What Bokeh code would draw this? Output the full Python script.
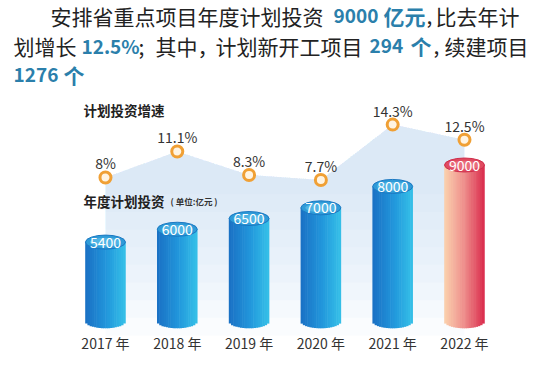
import numpy as np
from bokeh.plotting import figure
from bokeh.models import ColumnDataSource, Range1d, Label
from bokeh.core.properties import value
from bokeh.embed import file_html
from bokeh.resources import INLINE

# ---------------- data ----------------
years = ["2017", "2018", "2019", "2020", "2021", "2022"]
year_labels = ["2017 年", "2018 年", "2019 年", "2020 年", "2021 年", "2022 年"]
investment = [5400, 6000, 6500, 7000, 8000, 9000]          # 亿元
investment_labels = ["5400", "6000", "6500", "7000", "8000", "9000"]
growth = [8.0, 11.1, 8.3, 7.7, 14.3, 12.5]                  # %
growth_labels = ["8%", "11.1%", "8.3%", "7.7%", "14.3%", "12.5%"]

FONT = "Noto Sans CJK SC"
BLACK = "#222222"
HL = "#2b7fab"

# ---------------- figure ----------------
p = figure(width=550, height=375, output_backend="svg", toolbar_location=None,
           x_range=Range1d(-1.462, 6.198), y_range=Range1d(-831, 16684),
           x_axis_location=None, y_axis_location=None, min_border=0,
           outline_line_color=None, background_fill_color="white",
           border_fill_color="white")
p.grid.visible = False
p.extra_y_ranges = {"pct": Range1d(-15.57, 29.07)}

idx = np.arange(len(years), dtype=float)
inv = np.array(investment, dtype=float)
gr = np.array(growth, dtype=float)

# ---------------- growth area (soft gradient by layering) ----------------
levels = np.linspace(6.0, -10.8, 9)
for lv in levels:
    p.varea(x=idx, y1=np.minimum(lv, gr), y2=gr, y_range_name="pct",
            fill_color="#c3d7ee", fill_alpha=0.085)

# ---------------- cylinders ----------------
bar_w = 0.557
ell_h = 654.0
base = 1700.0
n_strips = 18

def lerp_color(stops, t):
    for (p0, c0), (p1, c1) in zip(stops[:-1], stops[1:]):
        if p0 <= t <= p1:
            f = (t - p0) / (p1 - p0) if p1 > p0 else 0
            c = [int(round(a + (b - a) * f)) for a, b in zip(c0, c1)]
            return "#%02x%02x%02x" % tuple(c)
    c = stops[-1][1]
    return "#%02x%02x%02x" % tuple(c)

blue_stops = [(0.0, (26, 112, 196)), (0.55, (34, 152, 220)), (1.0, (54, 192, 232))]
red_stops = [(0.0, (251, 210, 174)), (0.5, (238, 142, 140)), (1.0, (218, 44, 76))]

sx, stop_, sbot, scol, sw = [], [], [], [], []
for i in range(len(years)):
    stops = red_stops if i == len(years) - 1 else blue_stops
    for j in range(n_strips):
        u = (j + 0.5) / n_strips
        sx.append(idx[i] + (u - 0.5) * bar_w)
        stop_.append(inv[i])
        sbot.append(base - ell_h / 2 * np.sqrt(max(0.0, 1 - (2 * u - 1) ** 2)))
        scol.append(lerp_color(stops, u))
        sw.append(bar_w / n_strips * 1.25)
strip_src = ColumnDataSource(dict(x=sx, top=stop_, bottom=sbot, color=scol, w=sw))
p.vbar(x="x", top="top", bottom="bottom", width="w", source=strip_src,
       fill_color="color", line_color=None)

# top faces
top_fill = ["#2f9bd8"] * (len(years) - 1) + ["#e04a60"]
top_line = ["#1b78c2"] * (len(years) - 1) + ["#cf2e4c"]
top_inner = ["#6cc9ee"] * (len(years) - 1) + ["#f08a92"]
tsrc = ColumnDataSource(dict(x=idx, y=inv, f=top_fill, l=top_line, fi=top_inner,
                             lab=investment_labels))
p.ellipse(x="x", y="y", width=bar_w, height=ell_h, source=tsrc,
          fill_color="f", line_color="l", line_width=1)
p.ellipse(x="x", y="y", width=bar_w * 0.78, height=ell_h * 0.62, source=tsrc,
          fill_color="fi", fill_alpha=0.55, line_color=None)
p.text(x="x", y="y", text="lab", source=tsrc, text_align="center",
       text_baseline="middle", text_color="white", text_font=value(FONT),
       text_font_size="14px")

# year labels
ysrc = ColumnDataSource(dict(x=idx, y=[base] * len(years), lab=year_labels))
p.text(x="x", y="y", text="lab", source=ysrc, text_align="center",
       text_baseline="middle", text_color="#333333", text_font=value(FONT),
       text_font_size="14px", y_offset=22)

# ---------------- growth markers & labels ----------------
gsrc = ColumnDataSource(dict(x=idx, y=gr, lab=growth_labels))
p.scatter(x="x", y="y", source=gsrc, y_range_name="pct", marker="circle",
          size=11, fill_color="#fff4e2", line_color="#f0a035", line_width=3)
p.text(x="x", y="y", text="lab", source=gsrc, y_range_name="pct",
       text_align="center", text_baseline="alphabetic", text_color="#333333",
       text_font=value(FONT), text_font_size="14px", y_offset=-14)

# ---------------- section titles ----------------
def lab(text, x, ytop, size, color=BLACK, style="normal"):
    p.add_layout(Label(x=x, y=375 - ytop, x_units="screen", y_units="screen",
                       text=text, text_font=FONT, text_font_size=size,
                       text_color=color, text_font_style=style,
                       text_baseline="middle", text_align="left"))

lab("计划投资增速", 83, 109, "13.5px", "#222222", "bold")
lab("年度计划投资", 83, 200, "13.5px", "#222222", "bold")
lab("( 单位:亿元 )", 170, 200, "8.5px", "#333333", "bold")

# ---------------- headline ----------------
lab("安排省重点项目年度计划投资", 50, 15, "21px")
lab("9000", 333, 15, "19px", HL, "bold")
lab("亿元", 383, 15, "21px", HL, "bold")
lab(",", 426, 15, "21px")
lab("比去年计", 435, 15, "21px")

lab("划增长", 13, 45, "21px")
lab("12.5%", 81, 45, "19px", HL, "bold")
lab(";", 138, 45, "21px")
lab("其中，", 155, 45, "21px")
lab("计划新开工项目", 215, 45, "21px")
lab("294", 369, 45, "19px", HL, "bold")
lab("个", 410, 45, "21px", HL, "bold")
lab(",", 433, 45, "21px")
lab("续建项目", 444, 45, "21px")

lab("1276", 13, 74, "19px", HL, "bold")
lab("个", 63, 74, "21px", HL, "bold")

open("out.html", "w").write(file_html(p, INLINE))
